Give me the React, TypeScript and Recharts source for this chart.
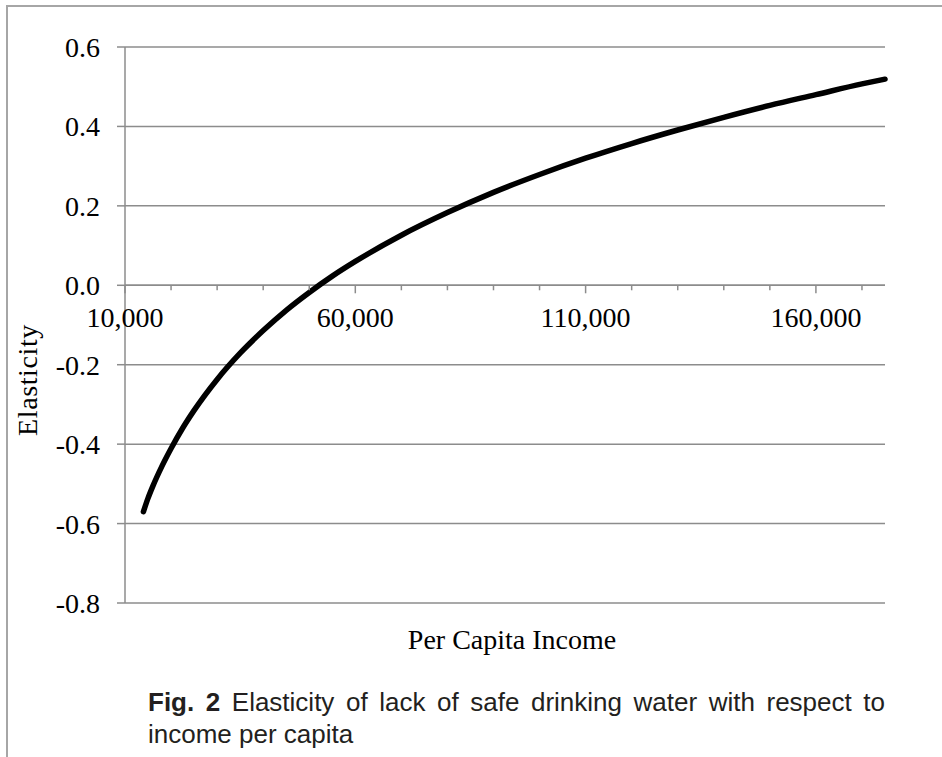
import { LineChart, Line, XAxis, YAxis, CartesianGrid, ReferenceLine, Label } from 'recharts';

// per capita income (x) and elasticity
const INCOME = [14000, 15000, 16000, 18000, 20000, 22500, 25000, 30000, 35000, 40000, 45000, 50000, 55000, 60000, 70000, 80000, 90000, 100000, 110000, 120000, 130000, 140000, 150000, 160000, 170000, 175000];
const ELASTICITY = [-0.57, -0.536, -0.507, -0.456, -0.411, -0.360, -0.315, -0.237, -0.171, -0.114, -0.063, -0.018, 0.023, 0.060, 0.126, 0.183, 0.234, 0.279, 0.320, 0.357, 0.391, 0.423, 0.453, 0.480, 0.507, 0.519];

const Y_TICKS = [-0.8, -0.6, -0.4, -0.2, 0, 0.2, 0.4, 0.6];
const X_MINOR_TICKS = [10000, 20000, 30000, 40000, 50000, 60000, 70000, 80000, 90000, 100000, 110000, 120000, 130000, 140000, 150000, 160000, 170000];
const X_LABELED = [10000, 60000, 110000, 160000];

const data = INCOME.map((x, i) => ({ x, y: ELASTICITY[i] }));

const W = 942;
const H = 680;
const M = { top: 47, right: 57, left: 0, bottom: 47 };
const X_AXIS_H = 30;
const PLOT_H = H - M.top - M.bottom - X_AXIS_H;
const Y_MIN = -0.8;
const Y_MAX = 0.6;
// x axis crosses the value axis at 0
const ZERO_SHIFT = PLOT_H * (0 - Y_MIN) / (Y_MAX - Y_MIN);

const AXIS = '#8c8c8c';
const SERIF = '"Liberation Serif", "DejaVu Serif", serif';
const FS = 28;

function XTick(props: any) {
  const { x, y, payload } = props;
  const y0 = y - ZERO_SHIFT;
  const major = X_LABELED.includes(payload.value);
  return (
    <g>
      <line x1={x} x2={x} y1={y0} y2={y0 + (major ? 8 : 5)} stroke={AXIS} strokeWidth={1.5} />
      {major && (
        <text x={x} y={y0 + 42} textAnchor="middle" fontFamily={SERIF} fontSize={FS} fill="#000">
          {payload.value.toLocaleString('en-US')}
        </text>
      )}
    </g>
  );
}

export default function App() {
  return (
    <div style={{ position: 'absolute', left: 0, top: 0, width: W, height: 757, background: '#fff', overflow: 'hidden' }}>
      <div style={{ position: 'absolute', left: 6, top: 5, right: 0, bottom: 0, borderLeft: '2px solid #a6a6a6', borderTop: '2px solid #a6a6a6' }} />
      <div style={{ position: 'absolute', left: 0, top: 0 }}>
        <LineChart width={W} height={H} data={data} margin={M}>
          <CartesianGrid horizontal vertical={false} stroke={AXIS} strokeWidth={1.5} />
          <XAxis
            dataKey="x"
            type="number"
            domain={[10000, 175000]}
            ticks={X_MINOR_TICKS}
            interval={0}
            height={X_AXIS_H}
            axisLine={false}
            tickLine={false}
            tickSize={0}
            tickMargin={0}
            tick={<XTick />}
          >
            <Label
              content={() => (
                <text x={512} y={649} textAnchor="middle" fontFamily={SERIF} fontSize={FS} fill="#000">
                  Per Capita Income
                </text>
              )}
            />
          </XAxis>
          <YAxis
            type="number"
            domain={[Y_MIN, Y_MAX]}
            ticks={Y_TICKS}
            interval={0}
            width={125}
            tickSize={8}
            tickMargin={17}
            axisLine={{ stroke: AXIS, strokeWidth: 1.5 }}
            tickLine={{ stroke: AXIS, strokeWidth: 1.5 }}
            tick={{ fontFamily: SERIF, fontSize: FS, fill: '#000' }}
            tickFormatter={(v: number) => v.toFixed(1)}
          >
            <Label
              content={() => (
                <text x={37} y={380} transform="rotate(-90 37 380)" textAnchor="middle" fontFamily={SERIF} fontSize={FS} fill="#000" letterSpacing={0.6}>
                  Elasticity
                </text>
              )}
            />
          </YAxis>
          <ReferenceLine y={0} stroke={AXIS} strokeWidth={1.5} />
          <Line
            type="monotone"
            dataKey="y"
            stroke="#000"
            strokeWidth={5.5}
            strokeLinecap="round"
            dot={false}
            activeDot={false}
            isAnimationActive={false}
          />
        </LineChart>
      </div>
      <div style={{ position: 'absolute', left: 148, top: 686, width: 737, fontFamily: '"Liberation Sans", Arial, sans-serif', fontSize: 26, lineHeight: '32px', color: '#231f20' }}>
        <div style={{ textAlign: 'justify', textAlignLast: 'justify' }}>
          <b>Fig. 2</b> Elasticity of lack of safe drinking water with respect to
        </div>
        <div>income per capita</div>
      </div>
    </div>
  );
}
